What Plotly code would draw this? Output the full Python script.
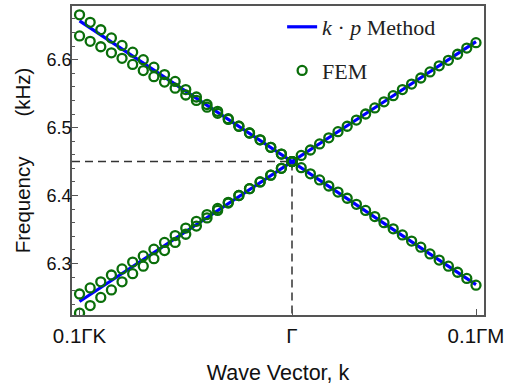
import numpy as np
import plotly.graph_objects as go

# k grid in units of 0.1*|ΓM| ; ΓK side is negative and longer (|ΓK|/|ΓM| = 1.1547)
gk_len = 1.1547
k_left = -np.linspace(0, gk_len, 21)   # j = 0..20 from Γ toward 0.1ΓK
k_right = np.linspace(0, 1.0, 21)      # j = 0..20 from Γ toward 0.1ΓM

# FEM, Γ-K side (index j = 0 at Γ)
fem_left_up_a = [6.450, 6.461, 6.471, 6.482, 6.492, 6.502, 6.513, 6.524, 6.534, 6.545,
                 6.556, 6.568, 6.578, 6.589, 6.600, 6.611, 6.621, 6.632, 6.644, 6.655, 6.666]
fem_left_up_b = [6.450, 6.461, 6.471, 6.482, 6.492, 6.502, 6.512, 6.521, 6.530, 6.540,
                 6.548, 6.558, 6.567, 6.575, 6.584, 6.593, 6.602, 6.610, 6.619, 6.627, 6.635]
fem_left_lo_a = [6.450, 6.440, 6.430, 6.420, 6.410, 6.400, 6.390, 6.381, 6.372, 6.362,
                 6.352, 6.341, 6.331, 6.321, 6.311, 6.302, 6.292, 6.283, 6.273, 6.264, 6.255]
fem_left_lo_b = [6.450, 6.440, 6.430, 6.420, 6.410, 6.400, 6.389, 6.378, 6.367, 6.355,
                 6.343, 6.331, 6.319, 6.307, 6.296, 6.285, 6.273, 6.261, 6.250, 6.238, 6.227]
# FEM, Γ-M side
fem_right_up = [6.450, 6.459, 6.467, 6.476, 6.485, 6.494, 6.502, 6.511, 6.520, 6.529,
                6.538, 6.547, 6.556, 6.564, 6.573, 6.582, 6.591, 6.599, 6.608, 6.617, 6.625]
fem_right_lo = [6.450, 6.441, 6.432, 6.423, 6.414, 6.405, 6.396, 6.387, 6.378, 6.369,
                6.360, 6.351, 6.342, 6.333, 6.324, 6.314, 6.305, 6.296, 6.287, 6.278, 6.268]

# k·p method bands
kp_k = [-gk_len, -gk_len / 2, 0.0, 0.5, 1.0]
kp_up = [6.657, 6.553, 6.450, 6.538, 6.6265]
kp_lo = [6.244, 6.347, 6.450, 6.359, 6.2687]

gamma_freq = 6.45
tick_vals = [-gk_len, 0.0, 1.0]
tick_text = ["0.1ΓK", "Γ", "0.1ΓM"]

x_range = [-1.1957, 1.0435]
y_range = [6.2241, 6.679]

green = "#0a6e0a"
blue = "#0000ff"

fig = go.Figure()

# Γ guide lines
fig.add_trace(go.Scatter(x=[x_range[0], 0, 0], y=[gamma_freq, gamma_freq, y_range[0]],
                         mode="lines", line=dict(color="#333333", width=1.5, dash="8px,5px"),
                         showlegend=False, hoverinfo="skip"))

fig.add_trace(go.Scatter(x=kp_k, y=kp_up, mode="lines", line=dict(color=blue, width=3.2),
                         name="<i>k</i> · <i>p</i> Method", legendgroup="a"))
fig.add_trace(go.Scatter(x=kp_k, y=kp_lo, mode="lines", line=dict(color=blue, width=3.2),
                         showlegend=False, legendgroup="a"))

fem_x = np.concatenate([k_left, k_left, k_left, k_left, k_right, k_right])
fem_y = np.concatenate([fem_left_up_a, fem_left_up_b, fem_left_lo_a, fem_left_lo_b,
                        fem_right_up, fem_right_lo])
fig.add_trace(go.Scatter(x=fem_x, y=fem_y, mode="markers", name="FEM", legendgroup="b",
                         marker=dict(symbol="circle-open", size=9,
                                     line=dict(color=green, width=2.3), color=green)))

axis_font = dict(family="Arial, Liberation Sans, sans-serif", color="#111111")

fig.update_layout(
    width=505, height=389,
    margin=dict(l=72, r=21, t=6, b=74, autoexpand=False),
    paper_bgcolor="white", plot_bgcolor="white",
    showlegend=True,
    legend=dict(x=0.51, y=1.0, xanchor="left", yanchor="top",
                font=dict(family="Liberation Serif, Times New Roman, serif", size=22, color="#222222"),
                bgcolor="rgba(0,0,0,0)", tracegroupgap=12, traceorder="grouped"),
    xaxis=dict(range=x_range, tickvals=tick_vals, ticktext=tick_text, automargin=False,
               ticks="inside", ticklen=6, tickcolor="#555555",
               ticklabeloverflow="allow", ticklabelstandoff=2,
               showline=True, linecolor="#555555", linewidth=1.5, mirror=True,
               showgrid=False, zeroline=False,
               tickfont=dict(size=20.5, **axis_font),
               title=dict(text="Wave Vector, k", font=dict(size=21.5, **axis_font), standoff=19)),
    yaxis=dict(range=y_range, tickvals=[6.3, 6.4, 6.5, 6.6], automargin=False,
               ticktext=["6.3", "6.4", "6.5", "6.6"],
               ticks="inside", ticklen=6, tickcolor="#555555",
               ticklabelstandoff=-5,
               minor=dict(ticks="inside", ticklen=3, dtick=0.02, tick0=6.3, tickcolor="#555555"),
               showline=True, linecolor="#555555", linewidth=1.5, mirror=True,
               showgrid=False, zeroline=False,
               tickfont=dict(size=18, **axis_font),
               title=dict(text="Frequency" + "\u00a0" * 7 + "(kHz)",
                          font=dict(size=20.5, **axis_font), standoff=10)),
)

fig.write_html("out.html", config={"displayModeBar": False},
               post_script="document.body.style.margin='0';document.body.style.overflow='hidden';")
